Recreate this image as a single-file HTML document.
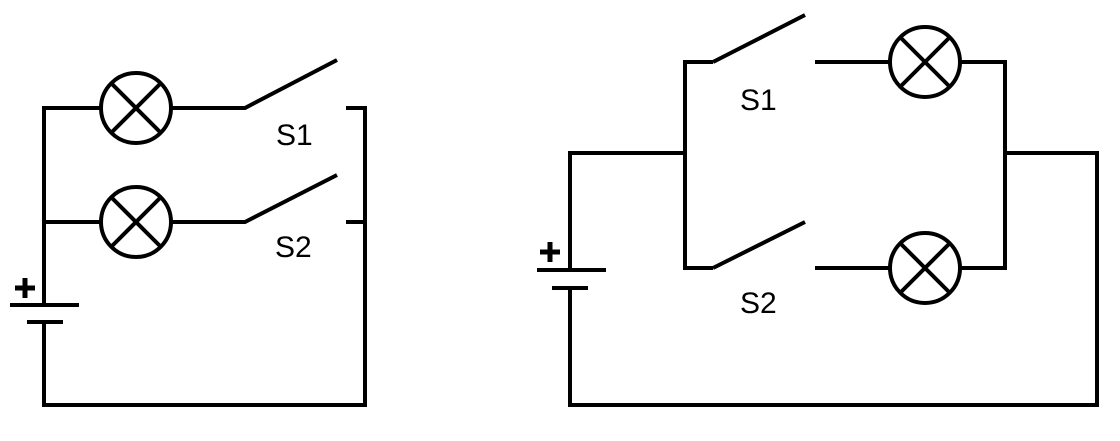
<!DOCTYPE html>
<html><head><style>html,body{margin:0;padding:0;background:#fff}</style></head>
<body>
<svg width="1120" height="436" viewBox="0 0 1120 436" xmlns="http://www.w3.org/2000/svg">
<g stroke="#000" stroke-width="4" fill="none" stroke-linecap="butt">
<polyline points="44,305 44,108 101,108"/>
<circle cx="136" cy="108" r="35"/>
<line x1="111" y1="83" x2="161" y2="133"/><line x1="161" y1="83" x2="111" y2="133"/>
<polyline points="171,108 245,108 337,60"/>
<polyline points="346,108 365,108 365,405 44,405 44,322"/>
<line x1="44" y1="222" x2="101" y2="222"/>
<circle cx="136" cy="222" r="35"/>
<line x1="111" y1="197" x2="161" y2="247"/><line x1="161" y1="197" x2="111" y2="247"/>
<polyline points="171,222 245,222 337,175"/>
<line x1="346" y1="222" x2="365" y2="222"/>
<line x1="10" y1="305" x2="79" y2="305"/>
<line x1="27" y1="322" x2="63" y2="322"/>
<polyline points="570,270 570,153 685,153"/>
<polyline points="713,62 685,62 685,268 713,268"/>
<line x1="713" y1="62" x2="805" y2="15"/>
<line x1="713" y1="268" x2="805" y2="222"/>
<line x1="815" y1="62" x2="890" y2="62"/>
<line x1="815" y1="268" x2="890" y2="268"/>
<circle cx="925" cy="62" r="35"/>
<line x1="900" y1="37" x2="950" y2="87"/><line x1="950" y1="37" x2="900" y2="87"/>
<circle cx="925" cy="268" r="35"/>
<line x1="900" y1="243" x2="950" y2="293"/><line x1="950" y1="243" x2="900" y2="293"/>
<polyline points="960,62 1005,62 1005,268 960,268"/>
<polyline points="1005,153 1097,153 1097,405 570,405 570,288"/>
<line x1="537" y1="270" x2="606" y2="270"/>
<line x1="552" y1="288" x2="588" y2="288"/>
</g>
<g stroke="#000" stroke-width="5">
<line x1="15" y1="288" x2="35" y2="288"/><line x1="25" y1="278" x2="25" y2="298"/>
<line x1="540" y1="252" x2="560" y2="252"/><line x1="550" y1="242" x2="550" y2="262"/>
</g>
<g font-family="Liberation Sans, sans-serif" font-size="30" fill="#000">
<text x="276" y="145">S1</text>
<text x="275" y="257">S2</text>
<text x="740" y="110">S1</text>
<text x="740" y="313">S2</text>
</g>
</svg>
</body></html>
